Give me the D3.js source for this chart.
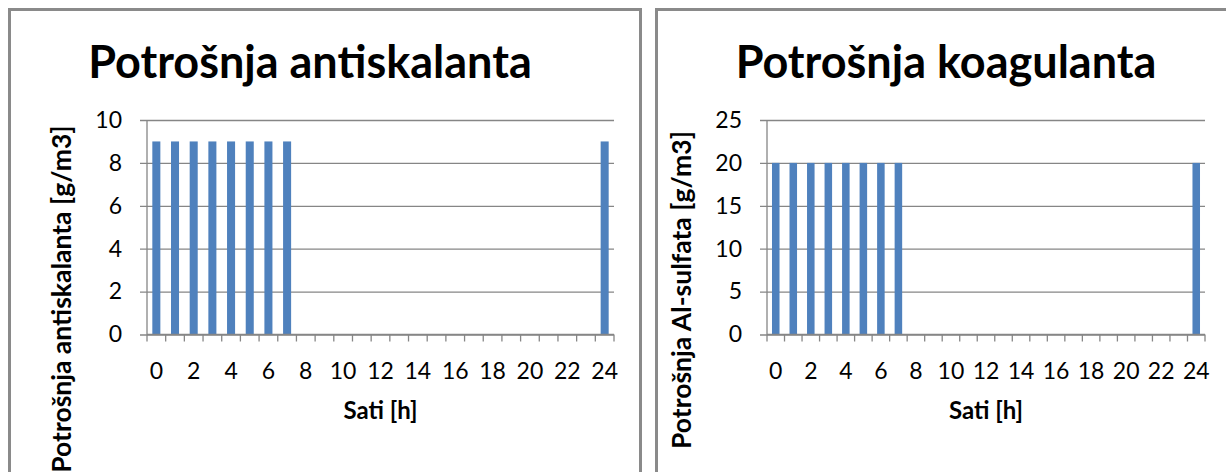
<!DOCTYPE html>
<html>
<head>
<meta charset="utf-8">
<script src="https://cdn.jsdelivr.net/npm/d3@7"></script>
<style>
  body { margin: 0; background: #fff; }
  svg text { font-family: Lato, "Open Sans", sans-serif; fill: #000; }
</style>
</head>
<body>
<div id="chart"></div>
<script>
// hours on the x axis
var hours = d3.range(0, 25);
var hourLabels = hours.map(function(h) { return h % 2 == 0 ? String(h) : ''; });

// antiskalant consumption [g/m3]
var antiskalantValues = [9, 9, 9, 9, 9, 9, 9, 9, 0, 0, 0, 0, 0, 0, 0, 0, 0, 0, 0, 0, 0, 0, 0, 0, 9];
// coagulant (Al-sulfate) consumption [g/m3]
var koagulantValues = [20, 20, 20, 20, 20, 20, 20, 20, 0, 0, 0, 0, 0, 0, 0, 0, 0, 0, 0, 0, 0, 0, 0, 0, 20];

var antiskalantTicks = [0, 2, 4, 6, 8, 10];
var koagulantTicks = [0, 5, 10, 15, 20, 25];

var titles = ['Potrošnja antiskalanta', 'Potrošnja koagulanta'];
var yTitles = ['Potrošnja antiskalanta [g/m3]', 'Potrošnja Al-sulfata [g/m3]'];
var xTitle = 'Sati [h]';

var width = 1226, height = 472;
var gridColor = '#868686';
var barColor = '#4f81bd';

var svg = d3.select('#chart').append('svg')
    .attr('width', width)
    .attr('height', height);

var panels = [
    { x: 8, plotLeft: 139, plotRight: 606, titleX: 302, yTitleX: 54, yTitleY: 299,
      values: antiskalantValues, ticks: antiskalantTicks, max: 10 },
    { x: 655, plotLeft: 112, plotRight: 550, titleX: 291, yTitleX: 27, yTitleY: 290,
      values: koagulantValues, ticks: koagulantTicks, max: 25 }
];

panels.forEach(function(p, k) {
    var g = svg.append('g').attr('transform', 'translate(' + p.x + ',0)');

    // chart border (right one runs off the page)
    g.append('rect')
        .attr('x', 1.5).attr('y', 9.5)
        .attr('width', 631).attr('height', 500)
        .attr('fill', 'none')
        .attr('stroke', '#8a8a8a')
        .attr('stroke-width', 3);

    var plotTop = 120, plotBottom = 334.5;

    var x = d3.scaleBand()
        .domain(hours)
        .range([p.plotLeft, p.plotRight])
        .paddingInner(0.57)
        .paddingOuter(0.285);

    var xEdge = d3.scaleLinear()
        .domain([0, hours.length])
        .range([p.plotLeft, p.plotRight]);

    var y = d3.scaleLinear()
        .domain([0, p.max])
        .range([plotBottom, plotTop]);

    // horizontal gridlines + y ticks
    var yAxis = d3.axisLeft(y)
        .tickValues(p.ticks)
        .tickSize(-(p.plotRight - p.plotLeft))
        .tickPadding(25)
        .tickFormat(d3.format('d'));

    var ya = g.append('g')
        .attr('transform', 'translate(' + p.plotLeft + ',0)')
        .call(yAxis);
    ya.select('.domain').remove();
    ya.selectAll('.tick line')
        .attr('x1', -7)
        .attr('stroke', gridColor)
        .attr('stroke-width', 1.3);
    ya.selectAll('.tick text')
        .style('font-size', '23px');

    // y axis line
    g.append('line')
        .attr('x1', p.plotLeft).attr('x2', p.plotLeft)
        .attr('y1', plotTop).attr('y2', plotBottom)
        .attr('stroke', gridColor)
        .attr('stroke-width', 1.3);

    // bars
    g.selectAll('rect.bar')
        .data(p.values)
        .enter().append('rect')
        .attr('class', 'bar')
        .attr('x', function(d, i) { return x(hours[i]); })
        .attr('width', x.bandwidth())
        .attr('y', function(d) { return y(d); })
        .attr('height', function(d) { return plotBottom - y(d); })
        .attr('fill', barColor);

    // x axis: ticks on category edges
    var xa = g.append('g')
        .attr('transform', 'translate(0,' + plotBottom + ')');
    xa.append('line')
        .attr('x1', p.plotLeft).attr('x2', p.plotRight)
        .attr('stroke', gridColor)
        .attr('stroke-width', 1.3);
    xa.selectAll('line.tk')
        .data(d3.range(0, hours.length + 1))
        .enter().append('line')
        .attr('class', 'tk')
        .attr('x1', function(d) { return xEdge(d); })
        .attr('x2', function(d) { return xEdge(d); })
        .attr('y1', 0).attr('y2', 7)
        .attr('stroke', gridColor)
        .attr('stroke-width', 1.3);
    xa.selectAll('text')
        .data(hours)
        .enter().append('text')
        .attr('x', function(d) { return x(d) + x.bandwidth() / 2; })
        .attr('y', 44)
        .attr('text-anchor', 'middle')
        .style('font-size', '23px')
        .text(function(d, i) { return hourLabels[i]; });

    // titles
    g.append('text')
        .attr('x', p.titleX)
        .attr('y', 78)
        .attr('text-anchor', 'middle')
        .style('font-size', '45px')
        .style('font-weight', 'bold')
        .text(titles[k]);

    g.append('text')
        .attr('x', (p.plotLeft + p.plotRight) / 2)
        .attr('y', 419)
        .attr('text-anchor', 'middle')
        .style('font-size', '24px')
        .style('font-weight', 'bold')
        .text(xTitle);

    g.append('text')
        .attr('transform', 'translate(' + p.yTitleX + ',' + p.yTitleY + ') rotate(-90)')
        .attr('text-anchor', 'middle')
        .attr('dy', '0.35em')
        .style('font-size', '26.5px')
        .style('font-weight', 'bold')
        .text(yTitles[k]);
});
</script>
</body>
</html>
